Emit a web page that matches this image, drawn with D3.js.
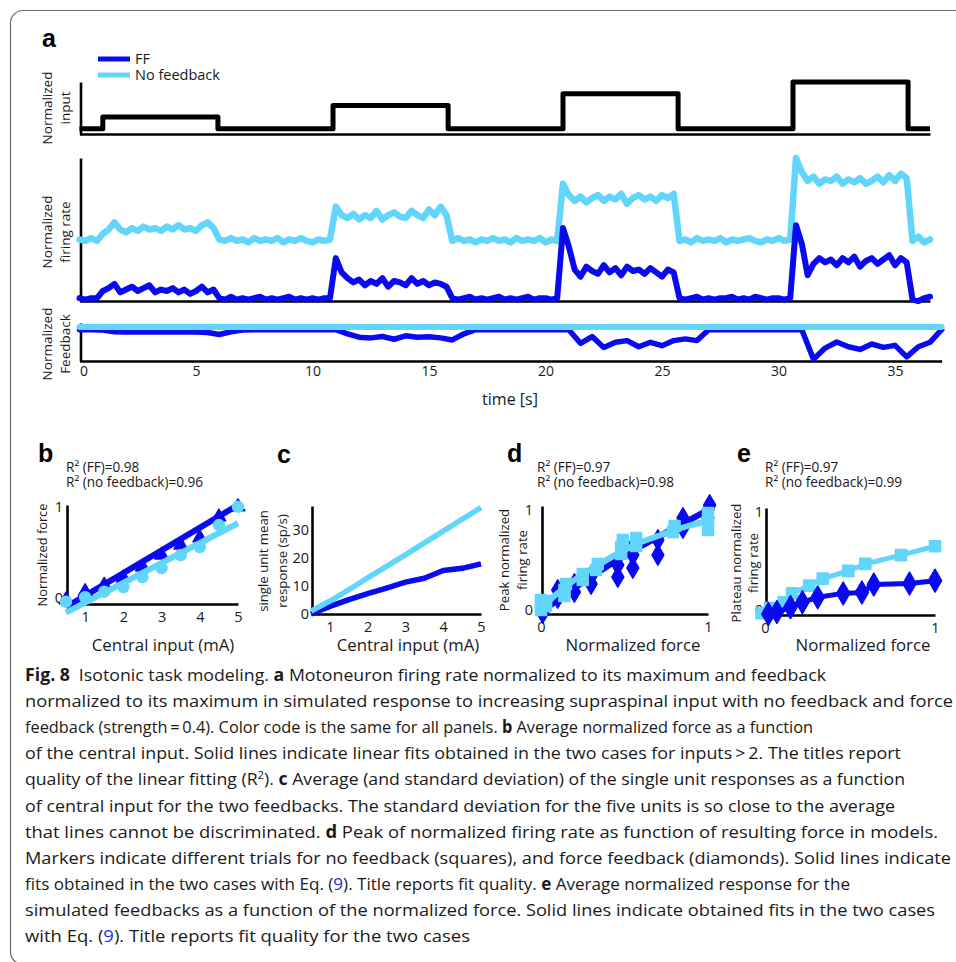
<!DOCTYPE html>
<html>
<head>
<meta charset="utf-8">
<script src="https://cdn.jsdelivr.net/npm/d3@7"></script>
<style>
  body { margin: 0; background: #fff; }
  svg { display: block; font-family: "Open Sans", sans-serif; }
</style>
</head>
<body>
<div id="figure"></div>
<script>
// colours used for the two feedback conditions, same in every panel
const ffColor = "#0a0aee";
const noFbColor = "#62d5fb";

// ---- panel a: simulated traces ----
// supraspinal input steps (s, normalized level)
const inputTime = [0, 1.0, 5.94, 10.88, 15.82, 20.75, 25.69, 30.62, 35.56, 36.5];
const inputLevel = [0.1, 0.325, 0.1, 0.55, 0.1, 0.775, 0.1, 1.0, 0.1, 0.1];

const rateTime = d3.range(0, 36.5 + 0.125, 0.25);
const rateNoFb = [
  0.43, 0.42, 0.44, 0.42,
  0.47, 0.5, 0.55, 0.5, 0.48, 0.51, 0.49, 0.52, 0.5, 0.51, 0.49, 0.52, 0.5, 0.53, 0.5, 0.51, 0.49, 0.53, 0.55, 0.51,
  0.43, 0.42, 0.44, 0.42, 0.43, 0.41, 0.44, 0.42, 0.43, 0.42, 0.44, 0.41, 0.43, 0.42, 0.44, 0.42, 0.41, 0.43, 0.42, 0.43,
  0.66, 0.6, 0.58, 0.61, 0.57, 0.6, 0.58, 0.63, 0.57, 0.6, 0.62, 0.59, 0.58, 0.63, 0.6, 0.58, 0.64, 0.6, 0.66, 0.6,
  0.42, 0.44, 0.42, 0.43, 0.41, 0.43, 0.42, 0.44, 0.42, 0.43, 0.41, 0.44, 0.42, 0.43, 0.42, 0.44, 0.41, 0.43, 0.42,
  0.82, 0.74, 0.7, 0.73, 0.69, 0.72, 0.74, 0.7, 0.73, 0.71, 0.75, 0.68, 0.72, 0.74, 0.71, 0.73, 0.7, 0.74, 0.72, 0.75,
  0.42, 0.43, 0.41, 0.44, 0.42, 0.43, 0.42, 0.44, 0.41, 0.43, 0.42, 0.43, 0.44, 0.42, 0.41, 0.43, 0.42, 0.44, 0.42, 0.43,
  1.0, 0.9, 0.84, 0.87, 0.82, 0.85, 0.84, 0.87, 0.82, 0.85, 0.83, 0.86, 0.82, 0.84, 0.87, 0.83, 0.88, 0.84, 0.89, 0.86,
  0.42, 0.45, 0.41, 0.43,
];
const rateFF = [
  0.02, 0.01, 0.02, 0.02,
  0.07, 0.09, 0.12, 0.06, 0.08, 0.1, 0.07, 0.09, 0.11, 0.06, 0.08, 0.07, 0.09, 0.06, 0.08, 0.05, 0.07, 0.1, 0.06, 0.08,
  0.02, 0.01, 0.03, 0.01, 0.02, 0.01, 0.02, 0.03, 0.01, 0.02, 0.01, 0.02, 0.03, 0.01, 0.02, 0.01, 0.02, 0.01, 0.02, 0.02,
  0.3, 0.2, 0.16, 0.13, 0.15, 0.11, 0.14, 0.12, 0.16, 0.1, 0.14, 0.13, 0.11, 0.16, 0.12, 0.14, 0.11, 0.13, 0.12, 0.1,
  0.02, 0.01, 0.02, 0.03, 0.01, 0.02, 0.01, 0.02, 0.03, 0.01, 0.02, 0.01, 0.02, 0.03, 0.01, 0.02, 0.02, 0.01, 0.02,
  0.51, 0.38, 0.22, 0.17, 0.24, 0.21, 0.19, 0.25, 0.2, 0.23, 0.18, 0.24, 0.21, 0.22, 0.19, 0.23, 0.2, 0.17, 0.22, 0.2,
  0.02, 0.01, 0.02, 0.03, 0.01, 0.02, 0.01, 0.02, 0.02, 0.03, 0.01, 0.02, 0.01, 0.03, 0.02, 0.01, 0.02, 0.02, 0.01, 0.02,
  0.53, 0.4, 0.18, 0.26, 0.3, 0.27, 0.29, 0.25, 0.3, 0.27, 0.31, 0.24, 0.28, 0.3, 0.26, 0.29, 0.32, 0.25, 0.3, 0.27,
  0.01, 0.0, 0.02, 0.03,
];

// feedback traces, read off every 0.5 s (no feedback stays at 1)
const fbTime = d3.range(0, 37 + 0.25, 0.5);
const fbFF = [
  0.92, 0.92, 0.91, 0.86, 0.85, 0.85, 0.86, 0.85, 0.85, 0.86, 0.85, 0.84, 0.78, 0.86, 0.91, 0.92, 0.92, 0.92, 0.92, 0.92, 0.92, 0.92,
  0.92, 0.8, 0.7, 0.68, 0.72, 0.64, 0.74, 0.7, 0.71, 0.68, 0.62, 0.8,
  0.92, 0.92, 0.92, 0.92, 0.92, 0.92, 0.92, 0.92,
  0.92, 0.52, 0.72, 0.4, 0.55, 0.6, 0.42, 0.55, 0.45, 0.6, 0.65, 0.6,
  0.92, 0.92, 0.92, 0.92, 0.92, 0.92, 0.92, 0.92,
  0.92, 0.05, 0.38, 0.56, 0.42, 0.34, 0.5, 0.4, 0.46, 0.12, 0.42, 0.55, 0.92,
];
const fbNoFbTime = [0, 37];
const fbNoFb = [1, 1];
const timeTicks = [0, 5, 10, 15, 20, 25, 30, 35];

// ---- panel b: normalized force vs central input ----
const inputMA = [0.5, 1, 1.5, 2, 2.5, 3, 3.5, 4, 4.5, 5];
const forceFF = [-0.02, 0.07, 0.14, 0.22, 0.34, 0.47, 0.58, 0.66, 0.89, 1.0];
const forceNoFb = [-0.04, 0.01, 0.07, 0.12, 0.23, 0.33, 0.47, 0.56, 0.8, 1.0];
const fitInput = [0.5, 5];
const forceFitFF = [-0.1, 1.02];
const forceFitNoFb = [-0.16, 0.82];

// ---- panel c: single unit mean response (sp/s) ----
const unitFF = [0, 2.7, 5.1, 7.2, 9.2, 11.3, 12.7, 15.4, 16.2, 17.8];
const unitNoFb = [1.0, 4.6, 8.6, 12.8, 16.9, 21.0, 25.2, 29.4, 33.6, 37.7];

// ---- panel d: peak normalized rate vs normalized force (one marker per trial) ----
const peakForceFF = [0.01, 0.02, 0.1, 0.1, 0.2, 0.2, 0.3, 0.3, 0.46, 0.46, 0.55, 0.55, 0.56, 0.7, 0.7, 0.85, 0.85, 1.0, 1.0, 1.01];
const peakRateFF = [-0.03, 0.03, 0.12, 0.2, 0.18, 0.26, 0.26, 0.34, 0.33, 0.45, 0.42, 0.55, 0.66, 0.55, 0.7, 0.82, 0.92, 0.92, 1.0, 1.05];
const peakForceNoFb = [0, 0, 0, 0.03, 0.03, 0.14, 0.14, 0.15, 0.25, 0.25, 0.33, 0.34, 0.48, 0.48, 0.49, 0.57, 0.57, 0.79, 0.8, 1.0, 1.0, 1.0];
const peakRateNoFb = [0, 0.05, 0.1, 0.04, 0.09, 0.14, 0.2, 0.26, 0.3, 0.36, 0.4, 0.46, 0.56, 0.63, 0.7, 0.64, 0.72, 0.78, 0.84, 0.8, 0.88, 0.97];
const peakFitForce = [0, 0.1, 0.2, 0.3, 0.4, 0.5, 0.6, 0.7, 0.8, 0.9, 1.0];
const peakFitFF = [-0.02, 0.1, 0.22, 0.33, 0.44, 0.54, 0.64, 0.73, 0.82, 0.91, 1.0];
const peakFitNoFb = [0.02, 0.17, 0.3, 0.41, 0.51, 0.6, 0.68, 0.74, 0.8, 0.85, 0.89];

// ---- panel e: plateau normalized rate vs normalized force ----
const plateauForceFF = [0.02, 0.07, 0.15, 0.22, 0.31, 0.46, 0.57, 0.64, 0.85, 1.0];
const plateauRateFF = [-0.04, -0.02, 0.03, 0.08, 0.13, 0.17, 0.18, 0.26, 0.27, 0.3];
const plateauForceNoFb = [-0.02, 0.03, 0.11, 0.16, 0.26, 0.34, 0.49, 0.59, 0.8, 1.0];
const plateauRateNoFb = [-0.03, 0.02, 0.08, 0.17, 0.25, 0.32, 0.4, 0.47, 0.56, 0.65];

// caption, one entry per printed line: [style, text]
const caption = [
  [["b", "Fig. 8"], ["n", "\u2002Isotonic task modeling. "], ["b", "a"], ["n", " Motoneuron firing rate normalized to its maximum and feedback"]],
  [["n", "normalized to its maximum in simulated response to increasing supraspinal input with no feedback and force"]],
  [["n", "feedback (strength\u2009=\u20090.4). Color code is the same for all panels. "], ["b", "b"], ["n", " Average normalized force as a function"]],
  [["n", "of the central input. Solid lines indicate linear fits obtained in the two cases for inputs\u2009>\u20092. The titles report"]],
  [["n", "quality of the linear fitting (R"], ["s", "2"], ["n", "). "], ["b", "c"], ["n", " Average (and standard deviation) of the single unit responses as a function"]],
  [["n", "of central input for the two feedbacks. The standard deviation for the five units is so close to the average"]],
  [["n", "that lines cannot be discriminated. "], ["b", "d"], ["n", " Peak of normalized firing rate as function of resulting force in models."]],
  [["n", "Markers indicate different trials for no feedback (squares), and force feedback (diamonds). Solid lines indicate"]],
  [["n", "fits obtained in the two cases with Eq. ("], ["l", "9"], ["n", "). Title reports fit quality. "], ["b", "e"], ["n", " Average normalized response for the"]],
  [["n", "simulated feedbacks as a function of the normalized force. Solid lines indicate obtained fits in the two cases"]],
  [["n", "with Eq. ("], ["l", "9"], ["n", "). Title reports fit quality for the two cases"]],
];

const svg = d3
  .select("#figure")
  .append("svg")
  .attr("width", 956)
  .attr("height", 962);

// rounded frame, open on the right where the page crops it
svg
  .append("path")
  .attr("d", "M 960 10.5 H 23 A 12.5 12.5 0 0 0 10.5 23 V 952 A 12 12 0 0 0 22.5 964")
  .attr("fill", "none")
  .attr("stroke", "#6a6a6a")
  .attr("stroke-width", 1.2);

styleAxis = (g, size) => {
  g.attr("font-family", null).attr("font-size", size);
  g.select(".domain").attr("stroke", "#000").attr("stroke-width", 2.6);
  g.selectAll(".tick text").attr("fill", "#1a1a1a");
};

panelLetter = (x, y, letter) =>
  svg
    .append("text")
    .attr("x", x)
    .attr("y", y)
    .attr("font-family", "'Liberation Sans', Arial, sans-serif")
    .attr("font-weight", "bold")
    .attr("font-size", 25)
    .text(letter);

// rotated label, one or two lines, centred on (cx, cy)
yLabel = (cx, cy, lines, size, gap) => {
  lines.forEach((t, i) => {
    const x = cx + (i - (lines.length - 1) / 2) * gap;
    svg
      .append("text")
      .attr("transform", `translate(${x},${cy}) rotate(-90)`)
      .attr("text-anchor", "middle")
      .attr("dy", "0.35em")
      .attr("font-size", size)
      .attr("fill", "#1a1a1a")
      .text(t);
  });
};

drawPanelA = () => {
  const xTime = d3.scaleLinear().domain([0, 36.5]).range([79.5, 930]);
  const xLong = xTime.copy().domain([0, 37]).range([79.5, xTime(37)]);
  const yInput = d3.scaleLinear().domain([0, 1]).range([134, 82]);
  const yRate = d3.scaleLinear().domain([0, 1]).range([301, 158]);
  const yFb = d3.scaleLinear().domain([0, 1]).range([361, 327]);

  // bare axes for the two upper strips
  [yInput, yRate].forEach((y) => {
    svg
      .append("g")
      .attr("transform", `translate(0,${y.range()[0]})`)
      .call(d3.axisBottom(xTime).tickValues([]).tickSize(0))
      .call((g) => styleAxis(g, 14));
    svg
      .append("g")
      .attr("transform", "translate(80.5,0)")
      .call(d3.axisLeft(y).tickValues([]).tickSize(0))
      .call((g) => styleAxis(g, 14));
  });

  // feedback strip carries the time axis
  svg
    .append("g")
    .attr("transform", `translate(0,${yFb.range()[0]})`)
    .call(d3.axisBottom(xLong).tickValues(timeTicks).tickSize(0).tickPadding(5))
    .call((g) => styleAxis(g, 14))
    .call((g) => g.selectAll(".tick text").attr("dx", (d) => (d === 0 ? 4 : 0)));
  svg
    .append("g")
    .attr("transform", "translate(80.5,0)")
    .call(d3.axisLeft(yFb.copy().range([361, 323])).tickValues([]).tickSize(0))
    .call((g) => styleAxis(g, 14));

  // input steps
  svg
    .append("path")
    .attr("fill", "none")
    .attr("stroke", "#000")
    .attr("stroke-width", 5)
    .attr("stroke-linejoin", "round")
    .attr(
      "d",
      d3
        .line()
        .curve(d3.curveStepAfter)
        .x((d) => xTime(d[0]))
        .y((d) => yInput(d[1]))(d3.zip(inputTime, inputLevel))
    );

  const traces = [
    { time: rateTime, values: rateNoFb, y: yRate, color: noFbColor, w: 6.5 },
    { time: rateTime, values: rateFF, y: yRate, color: ffColor, w: 6 },
    { time: fbTime, values: fbFF, y: yFb, color: ffColor, w: 5.5 },
    { time: fbNoFbTime, values: fbNoFb, y: yFb, color: noFbColor, w: 6 },
  ];
  traces.forEach((t) => {
    const line = d3
      .line()
      .x((d) => xLong(d[0]))
      .y((d) => t.y(d[1]));
    svg
      .append("path")
      .attr("fill", "none")
      .attr("stroke", t.color)
      .attr("stroke-width", t.w)
      .attr("stroke-linejoin", "round")
      .attr("stroke-linecap", "round")
      .attr("d", line(d3.zip(t.time, t.values)));
  });

  // legend
  const legend = [
    ["FF", ffColor],
    ["No feedback", noFbColor],
  ];
  legend.forEach(([name, color], i) => {
    svg
      .append("line")
      .attr("x1", 98)
      .attr("x2", 130)
      .attr("y1", 59 + 16 * i)
      .attr("y2", 59 + 16 * i)
      .attr("stroke", color)
      .attr("stroke-width", 5);
    svg
      .append("text")
      .attr("x", 135)
      .attr("y", 64 + 16 * i)
      .attr("font-size", 14.5)
      .attr("fill", "#1a1a1a")
      .text(name);
  });

  panelLetter(42, 47, "a");
  yLabel(56, 108, ["Normalized", "input"], 13.5, 18);
  yLabel(56, 232, ["Normalized", "firing rate"], 13.5, 18);
  yLabel(56, 344, ["Normalized", "Feedback"], 13.5, 18);

  svg
    .append("text")
    .attr("x", 510)
    .attr("y", 405)
    .attr("text-anchor", "middle")
    .attr("font-size", 16)
    .attr("fill", "#1a1a1a")
    .text("time [s]");
};

// shared frame for the four small panels
smallAxes = (x, y, xTicks, yTicks, padY) => {
  svg
    .append("g")
    .attr("transform", `translate(0,${y.range()[0]})`)
    .call(d3.axisBottom(x).tickValues(xTicks).tickSize(0).tickPadding(8).tickFormat(d3.format("d")))
    .call((g) => styleAxis(g, 14.5));
  svg
    .append("g")
    .attr("transform", `translate(${x.range()[0] + 1},0)`)
    .call(d3.axisLeft(y).tickValues(yTicks).tickSize(0).tickPadding(padY).tickFormat(d3.format("d")))
    .call((g) => styleAxis(g, 14.5));
};

r2Title = (x, ff, nofb) => {
  [`R\u00b2 (FF)=${ff}`, `R\u00b2 (no feedback)=${nofb}`].forEach((t, i) => {
    svg
      .append("text")
      .attr("x", x)
      .attr("y", 472 + 14.5 * i)
      .attr("font-size", 13.6)
      .attr("fill", "#1a1a1a")
      .text(t);
  });
};

xLabel = (cx, text) =>
  svg
    .append("text")
    .attr("x", cx)
    .attr("y", 651)
    .attr("text-anchor", "middle")
    .attr("font-size", 16.8)
    .attr("fill", "#1a1a1a")
    .text(text);

drawLine = (x, y, xs, ys, color, w) =>
  svg
    .append("path")
    .attr("fill", "none")
    .attr("stroke", color)
    .attr("stroke-width", w)
    .attr("stroke-linejoin", "round")
    .attr(
      "d",
      d3
        .line()
        .x((d) => x(d[0]))
        .y((d) => y(d[1]))(d3.zip(xs, ys))
    );

drawMarkers = (x, y, xs, ys, color, type, size) =>
  svg
    .append("g")
    .selectAll("path")
    .data(d3.zip(xs, ys))
    .join("path")
    .attr("transform", (d) => `translate(${x(d[0])},${y(d[1])})`)
    .attr("d", d3.symbol(type, size))
    .attr("fill", color)
    .attr("stroke", color)
    .attr("stroke-width", 1.5)
    .attr("stroke-linejoin", "round");

drawPanelB = () => {
  const x = d3.scaleLinear().domain([0.5, 5]).range([66, 238]);
  const y = d3.scaleLinear().domain([-0.065, 1.02]).range([604, 505]);
  smallAxes(x, y, [1, 2, 3, 4, 5], [0, 1], 4);
  drawLine(x, y, fitInput, forceFitFF, ffColor, 6);
  drawMarkers(x, y, inputMA, forceFF, ffColor, d3.symbolTriangle, 80);
  drawLine(x, y, fitInput, forceFitNoFb, noFbColor, 6);
  drawMarkers(x, y, inputMA, forceNoFb, noFbColor, d3.symbolCircle, 95);
  panelLetter(38, 462, "b");
  r2Title(66, "0.98", "0.96");
  yLabel(43, 555, ["Normalized force"], 12.8, 0);
  xLabel(163, "Central input (mA)");
};

drawPanelC = () => {
  const x = d3.scaleLinear().domain([0.5, 5]).range([311, 481]);
  const y = d3.scaleLinear().domain([0, 38.3]).range([614, 506]);
  smallAxes(x, y, [1, 2, 3, 4, 5], [0, 10, 20, 30], 3);
  drawLine(x, y, inputMA, unitFF, ffColor, 5.5);
  drawLine(x, y, inputMA, unitNoFb, noFbColor, 5.5);
  panelLetter(277, 463, "c");
  yLabel(273, 561, ["single unit mean", "response (sp/s)"], 13.2, 19);
  xLabel(408, "Central input (mA)");
};

drawPanelD = () => {
  const x = d3.scaleLinear().domain([0, 1]).range([541, 708]);
  const y = d3.scaleLinear().domain([-0.04, 1.04]).range([614, 506]);
  smallAxes(x, y, [0, 1], [0, 1], 9);
  drawLine(x, y, peakFitForce, peakFitFF, ffColor, 6);
  drawMarkers(x, y, peakForceFF, peakRateFF, ffColor, d3.symbolDiamond, 120);
  drawLine(x, y, peakFitForce, peakFitNoFb, noFbColor, 6);
  drawMarkers(x, y, peakForceNoFb, peakRateNoFb, noFbColor, d3.symbolSquare, 120);
  panelLetter(507, 462, "d");
  r2Title(537, "0.97", "0.98");
  yLabel(513, 560, ["Peak normalized", "firing rate"], 13.2, 18);
  xLabel(633, "Normalized force");
};

drawPanelE = () => {
  const x = d3.scaleLinear().domain([0, 1]).range([765, 935]);
  const y = d3.scaleLinear().domain([-0.05, 1.04]).range([615, 508]);
  smallAxes(x, y, [0, 1], [0, 1], 3);
  drawLine(x, y, plateauForceNoFb, plateauRateNoFb, noFbColor, 5);
  drawMarkers(x, y, plateauForceNoFb, plateauRateNoFb, noFbColor, d3.symbolSquare, 125);
  drawLine(x, y, plateauForceFF, plateauRateFF, ffColor, 5);
  drawMarkers(x, y, plateauForceFF, plateauRateFF, ffColor, d3.symbolDiamond, 150);
  panelLetter(737, 462, "e");
  r2Title(765, "0.97", "0.99");
  yLabel(745, 563, ["Plateau normalized", "firing rate"], 13.2, 17);
  xLabel(863, "Normalized force");
};

// caption lines are squeezed to the printed widths (the page font is narrower)
const captionWidths = [801, 928, 788, 876, 880, 870, 913, 926, 825, 910, 445];
drawCaption = () => {
  caption.forEach((parts, i) => {
    const t = svg
      .append("text")
      .attr("x", 25)
      .attr("y", 681 + 26.1 * i)
      .attr("font-size", 17)
      .attr("fill", "#1a1a1a")
      .attr("textLength", captionWidths[i])
      .attr("lengthAdjust", "spacingAndGlyphs");
    parts.forEach(([style, text], j) => {
      const s = t.append("tspan").text(text);
      if (style === "b") s.attr("font-weight", "bold");
      if (style === "l") s.attr("fill", "#2b2bd9");
      if (style === "s") s.attr("font-size", 11).attr("dy", -6);
      if (j > 0 && parts[j - 1][0] === "s") s.attr("dy", 6);
    });
  });
};

drawPanelA();
drawPanelB();
drawPanelC();
drawPanelD();
drawPanelE();
drawCaption();
</script>
</body>
</html>
